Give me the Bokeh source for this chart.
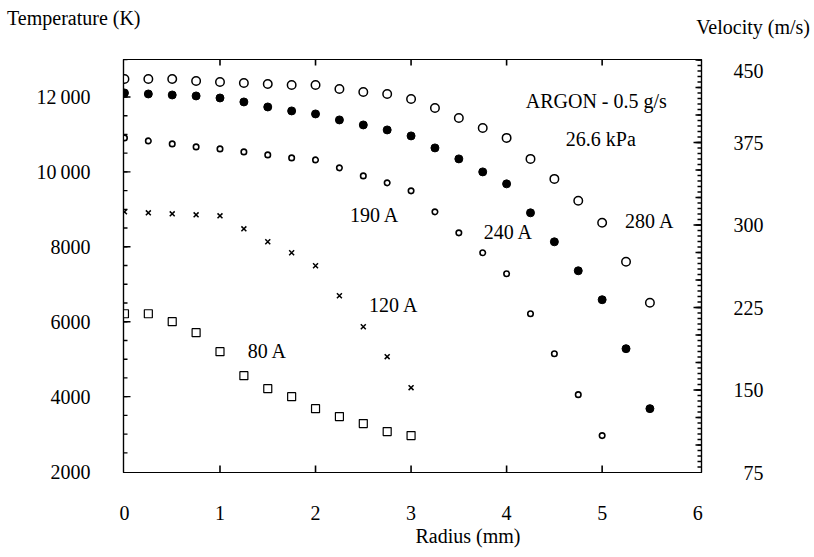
import math
from bokeh.plotting import figure
from bokeh.layouts import column
from bokeh.models import Range1d, LinearAxis, FixedTicker, Label, Title, Div
from bokeh.embed import file_html
from bokeh.resources import INLINE

# ---- data ----
r_280 = [0, 0.25, 0.5, 0.75, 1.0, 1.25, 1.5, 1.75, 2.0, 2.25, 2.5, 2.75, 3.0, 3.25, 3.5, 3.75, 4.0, 4.25, 4.5, 4.75, 5.0, 5.25, 5.5]
t_280 = [12480, 12480, 12480, 12427, 12400, 12373, 12347, 12320, 12320, 12213, 12133, 12080, 11947, 11707, 11440, 11173, 10907, 10347, 9813, 9227, 8640, 7600, 6507]

r_240 = [0, 0.25, 0.5, 0.75, 1.0, 1.25, 1.5, 1.75, 2.0, 2.25, 2.5, 2.75, 3.0, 3.25, 3.5, 3.75, 4.0, 4.25, 4.5, 4.75, 5.0, 5.25, 5.5]
t_240 = [12107, 12080, 12053, 12027, 11973, 11867, 11733, 11627, 11547, 11387, 11253, 11120, 10960, 10640, 10347, 10000, 9680, 8907, 8133, 7360, 6587, 5280, 3680]

r_190 = [0, 0.25, 0.5, 0.75, 1.0, 1.25, 1.5, 1.75, 2.0, 2.25, 2.5, 2.75, 3.0, 3.25, 3.5, 3.75, 4.0, 4.25, 4.5, 4.75, 5.0]
t_190 = [10907, 10827, 10747, 10667, 10613, 10533, 10453, 10373, 10320, 10107, 9893, 9707, 9493, 8933, 8373, 7840, 7280, 6213, 5147, 4053, 2960]

r_120 = [0, 0.25, 0.5, 0.75, 1.0, 1.25, 1.5, 1.75, 2.0, 2.25, 2.5, 2.75, 3.0]
t_120 = [8933, 8907, 8880, 8853, 8827, 8480, 8133, 7840, 7493, 6693, 5867, 5067, 4240]

r_80 = [0, 0.25, 0.5, 0.75, 1.0, 1.25, 1.5, 1.75, 2.0, 2.25, 2.5, 2.75, 3.0]
t_80 = [6213, 6213, 6000, 5707, 5200, 4560, 4213, 4000, 3680, 3467, 3280, 3067, 2960]

x_ticks = [0, 1, 2, 3, 4, 5, 6]
t_ticks = [2000, 4000, 6000, 8000, 10000, 12000]
t_tick_labels = ["2000", "4000", "6000", "8000", "10\u2009000", "12\u2009000"]
t_minor = list(range(2500, 13001, 500))
v_ticks = [75, 150, 225, 300, 375, 450]
v_tick_labels = ["\u200775", "150", "225", "300", "375", "450"]
v_mid = list(range(75, 451, 25))
v_minor = list(range(80, 451, 5))

X0, X1 = -0.01, 6.04
Y0, Y1 = 1975, 13000
V0, V1 = 75, 450.5
FW, FH = 578, 413
ML, MR, MT, MB = 123, 110, 59, 80
W = ML + FW + MR

FONT = "Liberation Serif"
FS = "20px"

# ---- header strip holding the two axis titles ----
hdr = Div(
    text=('<div style="position:relative;width:%dpx;height:%dpx;'
          'font-family:\'Liberation Serif\';font-size:20px;color:black;line-height:22px;">'
          '<span style="position:absolute;left:7px;top:7px;white-space:nowrap;">Temperature (K)</span>'
          '<span style="position:absolute;right:1px;top:16px;white-space:nowrap;">Velocity (m/s)</span>'
          '</div>') % (W, MT),
    width=W, height=MT, margin=(0, 0, 0, 0))

# ---- main chart ----
p = figure(frame_width=FW, frame_height=FH, output_backend="svg", toolbar_location=None,
           x_range=Range1d(X0, X1), y_range=Range1d(Y0, Y1), title_location=None,
           min_border_left=ML, min_border_right=MR, min_border_top=0, min_border_bottom=MB)
p.xaxis.visible = False
p.yaxis.visible = False
p.grid.visible = False
p.outline_line_color = "black"
p.outline_line_width = 1.2
p.background_fill_color = "white"
p.border_fill_color = "white"

def style_axis(ax):
    ax.axis_line_color = "black"
    ax.axis_line_width = 1.2
    ax.major_tick_out = 0
    ax.minor_tick_out = 0
    ax.major_tick_in = 0
    ax.minor_tick_in = 0
    ax.major_label_text_font = FONT
    ax.major_label_text_font_size = FS
    ax.major_label_text_color = "black"

bx = LinearAxis(ticker=FixedTicker(ticks=x_ticks, minor_ticks=[]))
style_axis(bx)
bx.major_label_standoff = 33
p.add_layout(bx, "below")

ly = LinearAxis(ticker=FixedTicker(ticks=t_ticks, minor_ticks=[]))
style_axis(ly)
ly.major_label_standoff = 33
ly.major_label_overrides = {t: s for t, s in zip(t_ticks, t_tick_labels)}
p.add_layout(ly, "left")

p.extra_y_ranges = {"vel": Range1d(V0, V1)}
ry = LinearAxis(y_range_name="vel", ticker=FixedTicker(ticks=v_ticks, minor_ticks=[]))
style_axis(ry)
ry.major_label_standoff = 32
ry.major_label_overrides = {v: s for v, s in zip(v_ticks, v_tick_labels)}
p.add_layout(ry, "right")

# inward tick marks: dash markers whose centre sits half a tick length inside the frame
dx = (X1 - X0) / FW
dy = (Y1 - Y0) / FH
dv = (V1 - V0) / FH

def vtick(xs, y, npx):
    p.scatter(xs, [y + npx * dy / 2] * len(xs), marker="dash", size=abs(npx), angle=math.pi / 2,
              line_color="black", line_width=1.6)

def htick(ys, x, npx, rng="default"):
    p.scatter([x + npx * dx / 2] * len(ys), ys, marker="dash", size=abs(npx), angle=0,
              line_color="black", line_width=1.4, y_range_name=rng)

vtick(x_ticks[1:-1], Y0, 7)
vtick(x_ticks[1:-1], Y1, -6)
htick(t_minor, X0, 4)
htick(t_ticks[1:], X0, 7)
htick(v_minor, X1, -4, "vel")
htick(v_mid[1:], X1, -6, "vel")
htick(v_ticks[1:-1], X1, -8, "vel")

# series
p.scatter(r_280, t_280, marker="circle", size=8.5, fill_color="white", line_color="black", line_width=1.5)
p.scatter(r_240, t_240, marker="circle", size=8, fill_color="black", line_color="black", line_width=1)
p.scatter(r_190, t_190, marker="circle", size=5.5, fill_color="white", line_color="black", line_width=1.6)
p.scatter(r_120, t_120, marker="x", size=7, line_color="black", line_width=1.5)
p.scatter(r_80, t_80, marker="square", size=8, fill_color="white", line_color="black", line_width=1.2)

def lab(x, y, text):
    p.add_layout(Label(x=x, y=y, text=text, text_font=FONT, text_font_size=FS,
                       text_color="black", text_align="left", text_baseline="middle"))

lab(4.2, 11893, "ARGON - 0.5 g/s")
lab(4.62, 10880, "26.6 kPa")
lab(2.36, 8853, "190 A")
lab(3.76, 8400, "240 A")
lab(5.24, 8693, "280 A")
lab(2.56, 6453, "120 A")
lab(1.29, 5227, "80 A")

rad = Title(text="Radius (mm)", align="left", offset=292, standoff=0,
            text_font=FONT, text_font_size=FS, text_font_style="normal", text_color="black")
p.add_layout(rad, "below")

layout = column(hdr, p, spacing=0)
open("out.html", "w").write(file_html(layout, INLINE))
